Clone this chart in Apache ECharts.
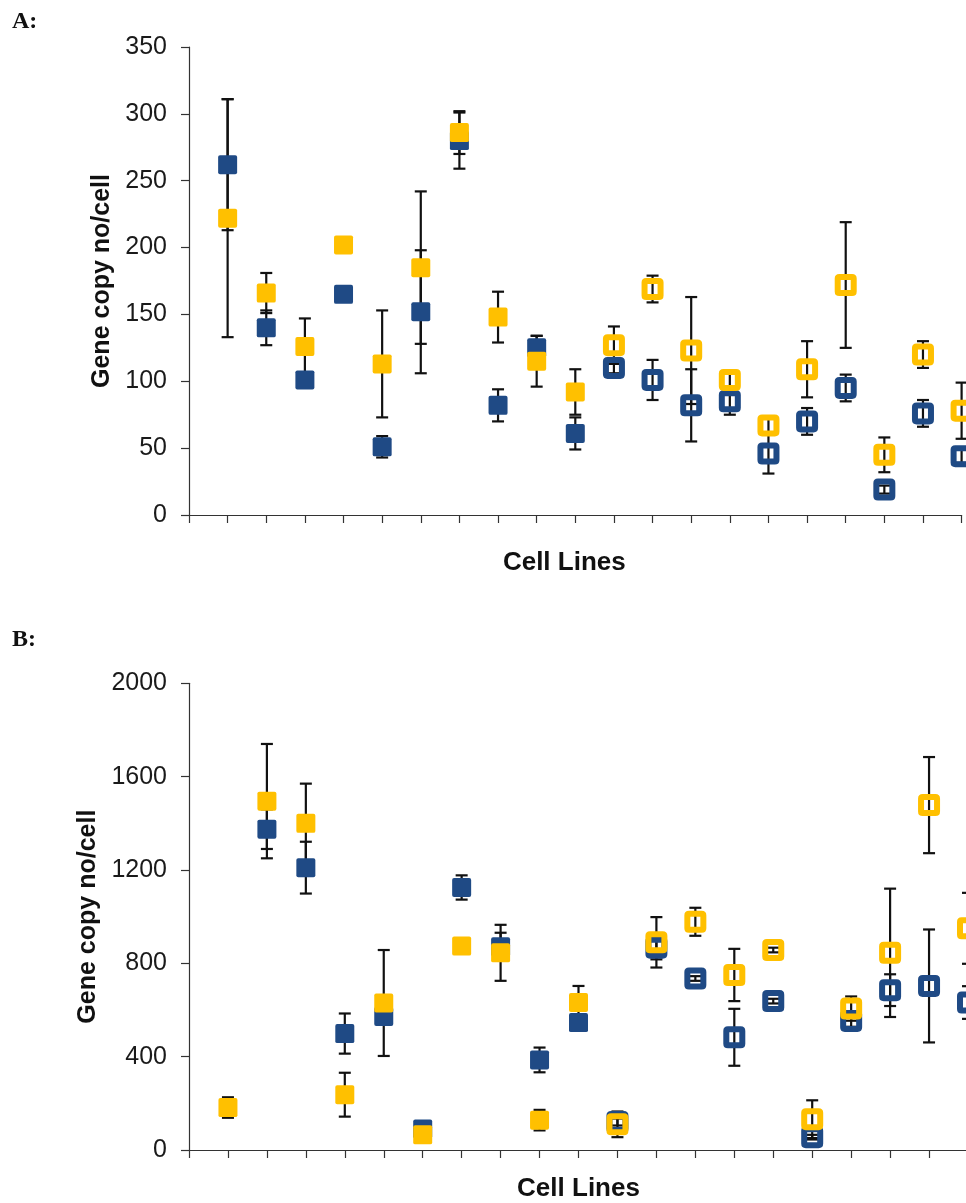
<!DOCTYPE html>
<html>
<head>
<meta charset="utf-8">
<title>Gene copy number per cell</title>
<script src="https://cdn.jsdelivr.net/npm/echarts@6/dist/echarts.min.js"></script>
<style>
  html, body { margin: 0; padding: 0; background: #ffffff; overflow: hidden; }
  #chart { width: 1000px; height: 1203px; }
</style>
</head>
<body>
<div id="chart"></div>
<script>
// Cell line positions along the horizontal axis
const cellLines = [1, 2, 3, 4, 5, 6, 7, 8, 9, 10, 11, 12, 13, 14, 15, 16, 17, 18, 19, 20];
// Cell lines from this position on are drawn with open markers
const firstOpenLine = 11;

// Panel A
const ticksA = [0, 50, 100, 150, 200, 250, 300, 350];
const blueA      = [262, 140, 101, 165, 51, 152, 280, 82, 125, 61, 110, 101, 82, 85, 46, 70, 95, 19, 76, 44];
const blueAErr   = [49, 13, 5, 3, 8, 46, 21, 12, 9, 12, 4, 15, 27, 10, 15, 10, 10, 3, 10, 5];
const yellowA    = [222, 166, 126, 202, 113, 185, 286, 148, 115, 92, 127, 169, 123, 101, 67, 109, 172, 45, 120, 78];
const yellowAErr = [89, 15, 21, 3, 40, 57, 16, 19, 19, 17, 14, 10, 40, 5, 5, 21, 47, 13, 10, 21];

// Panel B
const ticksB = [0, 400, 800, 1200, 1600, 2000];
const blueB      = [null, 1375, 1210, 499, 572, 90, 1125, 871, 386, 546, 120, 867, 735, 483, 638, 55, 553, 685, 703, 632];
const blueBErr   = [null, 85, 111, 86, 20, 10, 52, 60, 53, 15, 15, 50, 10, 122, 10, 10, 25, 68, 242, 70];
const yellowB    = [182, 1495, 1400, 237, 630, 65, 874, 845, 128, 632, 110, 890, 978, 750, 857, 132, 606, 845, 1478, 950];
const yellowBErr = [44, 245, 170, 94, 227, 15, 15, 120, 44, 71, 55, 108, 60, 112, 10, 81, 52, 275, 206, 152];

const BLUE = '#1f4a85';
const YELLOW = '#ffc000';
const SANS = 'Arial, "Liberation Sans", Helvetica, sans-serif';
const SERIF = '"Times New Roman", "Liberation Serif", serif';
// Square with slightly rounded corners
const SQUARE = 'path://M2,0H18Q20,0 20,2V18Q20,20 18,20H2Q0,20 0,18V2Q0,0 2,0Z';

function points(values, open) {
  const out = [];
  values.forEach((v, i) => {
    if (v == null) return;
    const isOpen = cellLines[i] >= firstOpenLine;
    if (isOpen === open) out.push([cellLines[i], v]);
  });
  return out;
}

function markerSeries(axis, values, color, open) {
  const s = {
    type: 'scatter',
    xAxisIndex: axis,
    yAxisIndex: axis,
    z: 3,
    symbol: SQUARE,
    silent: true,
    data: points(values, open)
  };
  if (open) {
    s.symbolSize = 16;
    s.itemStyle = { color: 'rgba(0,0,0,0)', borderColor: color, borderWidth: 6, opacity: 1 };
  } else {
    s.symbolSize = 19;
    s.itemStyle = { color: color, opacity: 1 };
  }
  return s;
}

function errorBars(axis, values, errs) {
  const data = [];
  values.forEach((v, i) => {
    if (v != null && errs[i]) data.push([cellLines[i], v, errs[i]]);
  });
  return {
    type: 'custom',
    xAxisIndex: axis,
    yAxisIndex: axis,
    z: 1,
    silent: true,
    encode: { x: 0, y: 1 },
    renderItem: function (params, api) {
      const x = api.value(0), y = api.value(1), e = api.value(2);
      const top = api.coord([x, y + e]);
      const bot = api.coord([x, y - e]);
      const hw = 6;
      const style = { stroke: '#111111', lineWidth: 2.2 };
      return {
        type: 'group',
        children: [
          { type: 'line', shape: { x1: top[0], y1: top[1], x2: bot[0], y2: bot[1] }, style: style },
          { type: 'line', shape: { x1: top[0] - hw, y1: top[1], x2: top[0] + hw, y2: top[1] }, style: style },
          { type: 'line', shape: { x1: bot[0] - hw, y1: bot[1], x2: bot[0] + hw, y2: bot[1] }, style: style }
        ]
      };
    },
    data: data
  };
}

const axisLineStyle = { color: '#333333', width: 1.2 };

function xAxisFor(grid, namePad, nameGap) {
  return {
    type: 'value',
    gridIndex: grid,
    min: 0,
    max: cellLines[cellLines.length - 1],
    interval: 1,
    name: 'Cell Lines',
    nameLocation: 'middle',
    nameGap: nameGap,
    nameTextStyle: { fontFamily: SANS, fontWeight: 'bold', fontSize: 26, color: '#111', padding: namePad },
    axisLine: { show: true, onZero: false, lineStyle: axisLineStyle },
    axisTick: { show: true, length: 8, lineStyle: axisLineStyle },
    axisLabel: { show: false },
    splitLine: { show: false }
  };
}

function yAxisFor(grid, ticks, nameGap) {
  return {
    type: 'value',
    gridIndex: grid,
    min: ticks[0],
    max: ticks[ticks.length - 1],
    interval: ticks[1] - ticks[0],
    name: 'Gene copy no/cell',
    nameLocation: 'middle',
    nameRotate: 90,
    nameGap: nameGap,
    nameTextStyle: { fontFamily: SANS, fontWeight: 'bold', fontSize: 25, color: '#111' },
    axisLine: { show: true, lineStyle: axisLineStyle },
    axisTick: { show: true, length: 8, lineStyle: axisLineStyle },
    axisLabel: {
      fontFamily: SANS, fontSize: 25, color: '#1a1a1a', margin: 22,
      formatter: function (v) { return String(v); }
    },
    splitLine: { show: false }
  };
}

const chart = echarts.init(document.getElementById('chart'), null, { renderer: 'canvas' });

chart.setOption({
  animation: false,
  backgroundColor: '#ffffff',
  grid: [
    { left: 189, top: 47, width: 772.6, height: 468 },
    { left: 189, top: 683.3, width: 779, height: 467.7 }
  ],
  xAxis: [
    xAxisFor(0, [0, 22, 0, 0], 35),
    xAxisFor(1, [0, 0, 0, 0], 26)
  ],
  yAxis: [
    yAxisFor(0, ticksA, 73),
    yAxisFor(1, ticksB, 83)
  ],
  graphic: [
    { type: 'text', left: 12, top: 10, style: { text: 'A:', font: 'bold 24px ' + SERIF, fill: '#111' } },
    { type: 'text', left: 12, top: 628, style: { text: 'B:', font: 'bold 24px ' + SERIF, fill: '#111' } }
  ],
  series: [
    errorBars(0, blueA, blueAErr),
    errorBars(0, yellowA, yellowAErr),
    markerSeries(0, blueA, BLUE, false),
    markerSeries(0, blueA, BLUE, true),
    markerSeries(0, yellowA, YELLOW, false),
    markerSeries(0, yellowA, YELLOW, true),

    errorBars(1, blueB, blueBErr),
    errorBars(1, yellowB, yellowBErr),
    markerSeries(1, blueB, BLUE, false),
    markerSeries(1, blueB, BLUE, true),
    markerSeries(1, yellowB, YELLOW, false),
    markerSeries(1, yellowB, YELLOW, true)
  ]
});
</script>
</body>
</html>
